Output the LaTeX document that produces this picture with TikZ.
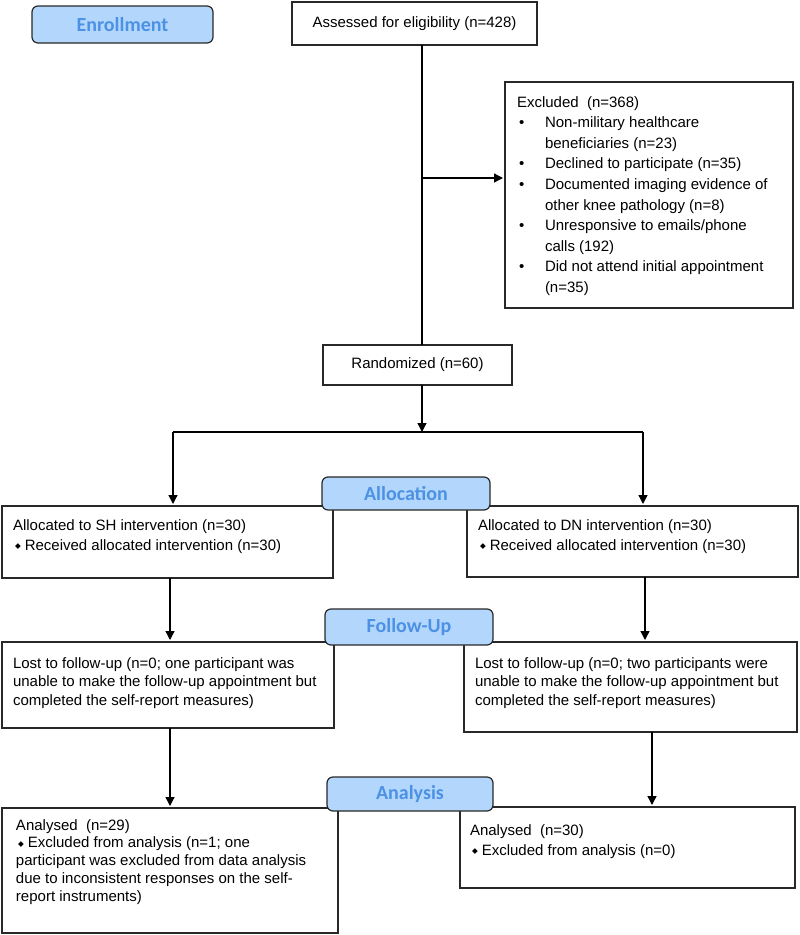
\documentclass[tikz,border=0pt]{standalone}
\usepackage{fontspec}
\setmainfont{Liberation Sans}
\newfontfamily\labfont{Carlito}
\newfontfamily\symfont{DejaVu Sans}
\usetikzlibrary{arrows.meta}
\definecolor{labfill}{RGB}{179,215,252}
\definecolor{labtext}{RGB}{76,145,228}
\definecolor{boxline}{RGB}{40,40,40}
\newcommand\firstln{\rule{0pt}{12pt}}
\newcommand\dia{{\symfont\fontsize{7.5}{7.5}\selectfont\raisebox{1.2pt}{◆}}}
\newcommand\bul{\makebox[28pt][l]{\hspace*{2pt}•}}
\newcommand\ind{\hspace*{28pt}}
\begin{document}
\begin{tikzpicture}[x=1pt,y=-1pt,
  box/.style={draw=boxline, line width=1.3pt, anchor=north west, inner sep=0pt, outer sep=0pt},
  lab/.style={draw=boxline, line width=1.2pt, fill=labfill, rounded corners=6pt, anchor=north west, inner sep=0pt, outer sep=0pt, font=\labfont\bfseries\fontsize{20}{24}\selectfont, text=labtext},
  txt/.style={anchor=north west, inner sep=0pt, outer sep=0pt, align=left},
  ln/.style={line width=1.3pt, draw=black},
  arr/.style={ln, -{Triangle[length=9pt,width=9pt]}, shorten >=2pt}]
\useasboundingbox (0,0) rectangle (800,935);

% boxes
\node[box, minimum width=245pt, minimum height=43pt, font=\fontsize{15}{18}\selectfont] (assess) at (292,2) {Assessed for eligibility (n=428)};
\node[box, minimum width=288pt, minimum height=226pt] (excl) at (505,82) {};
\node[box, minimum width=189pt, minimum height=40pt, font=\fontsize{15}{18}\selectfont] (rand) at (323,345) {Randomized (n=60)};
\node[box, minimum width=331pt, minimum height=72pt] (allocL) at (2,506) {};
\node[box, minimum width=331pt, minimum height=71pt] (allocR) at (467,506) {};
\node[box, minimum width=332pt, minimum height=86pt] (follL) at (2,642) {};
\node[box, minimum width=333pt, minimum height=90pt] (follR) at (464,642) {};
\node[box, minimum width=336pt, minimum height=125pt] (anaL) at (2,808) {};
\node[box, minimum width=335pt, minimum height=81pt] (anaR) at (460,807) {};

% texts
\node[txt, font=\fontsize{15}{20.6}\selectfont] (exclT) at (517,95) {\firstln Excluded~~(n=368)\\
\bul Non-military healthcare\\
\ind beneficiaries (n=23)\\
\bul Declined to participate (n=35)\\
\bul Documented imaging evidence of\\
\ind other knee pathology (n=8)\\
\bul Unresponsive to emails/phone\\
\ind calls (192)\\
\bul Did not attend initial appointment\\
\ind (n=35)};
\node[txt, font=\fontsize{15}{20}\selectfont] (allocLT) at (13,518) {\firstln Allocated to SH intervention (n=30)\\
\hspace*{2pt}\dia\hspace{4pt}Received allocated intervention (n=30)};
\node[txt, font=\fontsize{15}{20}\selectfont] (allocRT) at (478,518) {\firstln Allocated to DN intervention (n=30)\\
\hspace*{2pt}\dia\hspace{4pt}Received allocated intervention (n=30)};
\node[txt, font=\fontsize{15}{18.5}\selectfont] (follLT) at (13,656) {\firstln Lost to follow-up (n=0; one participant was\\
unable to make the follow-up appointment but\\
completed the self-report measures)};
\node[txt, font=\fontsize{15}{18.5}\selectfont] (follRT) at (475,656) {\firstln Lost to follow-up (n=0; two participants were\\
unable to make the follow-up appointment but\\
completed the self-report measures)};
\node[txt, font=\fontsize{15}{17.75}\selectfont] (anaLT) at (16,818) {\firstln Analysed~~(n=29)\\
\hspace*{2pt}\dia\hspace{4pt}Excluded from analysis (n=1; one\\
participant was excluded from data analysis\\
due to inconsistent responses on the self-\\
report instruments)};
\node[txt, font=\fontsize{15}{20}\selectfont] (anaRT) at (470,823) {\firstln Analysed~~(n=30)\\
\hspace*{2pt}\dia\hspace{4pt}Excluded from analysis (n=0)};

% labels
\node[lab, minimum width=181pt, minimum height=37pt] (enr) at (32,6) {Enrollment};
\node[lab, minimum width=168pt, minimum height=33pt] (allocLab) at (322,477) {Allocation};
\node[lab, minimum width=168pt, minimum height=36pt] (follLab) at (325,609) {Follow-Up};
\node[lab, minimum width=166pt, minimum height=34pt] (anaLab) at (327,777) {Analysis};

% connectors
\coordinate (trunk) at (422,0);
\draw[ln] (trunk |- assess.south) -- (trunk |- rand.north);
\coordinate (jx) at (422,178);
\draw[arr] (jx) -- (jx -| excl.west);
\coordinate (split) at (422,432);
\draw[arr, shorten >=0pt] (trunk |- rand.south) -- (split);
\coordinate (sl) at (173,432);
\coordinate (sr) at (643,432);
\draw[ln] (sl) -- (sr);
\draw[arr] (sl) -- (sl |- allocL.north);
\draw[arr] (sr) -- (sr |- allocR.north);
\coordinate (c1) at (170,0);
\coordinate (c2) at (645,0);
\coordinate (c3) at (652,0);
\draw[arr] (c1 |- allocL.south) -- (c1 |- follL.north);
\draw[arr] (c2 |- allocR.south) -- (c2 |- follR.north);
\draw[arr] (c1 |- follL.south) -- (c1 |- anaL.north);
\draw[arr] (c3 |- follR.south) -- (c3 |- anaR.north);
\end{tikzpicture}
\end{document}
